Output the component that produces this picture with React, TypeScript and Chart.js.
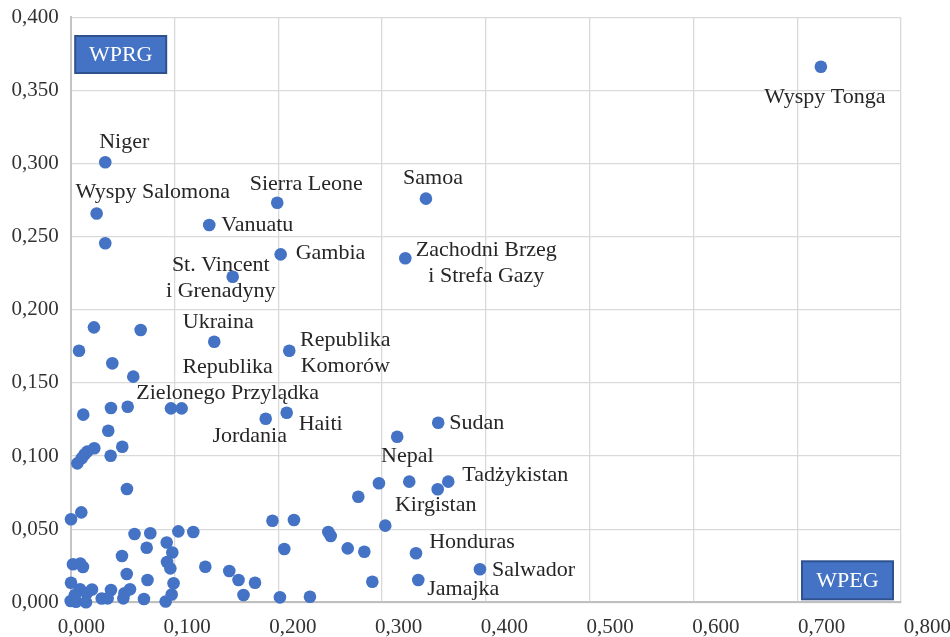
import React, { useEffect, useRef } from "react";
import { Chart, registerables } from "chart.js";

Chart.register(...registerables);

// x = WPEG share, y = WPRG share
const xValues = [
  0.7228, 0.0333, 0.025, 0.0333, 0.199, 0.3423, 0.1335, 0.2023, 0.3224, 0.1561,
  0.0224, 0.008, 0.0674, 0.1383, 0.2106, 0.0401, 0.0603, 0.0121, 0.0388, 0.0549,
  0.0966, 0.1069, 0.1879, 0.2081, 0.0362, 0.0497, 0.0227, 0.016, 0.0133, 0.0106,
  0.0064, 0.0385, 0.0542, 0.0102, 0.0003, 0.0615, 0.0767, 0.1037, 0.1181, 0.0925,
  0.0732, 0.0979, 0.0494, 0.2058, 0.1944, 0.2151, 0.0022, 0.0092, 0.0118, 0.0928,
  0.096, 0.1297, 0.1528, 0.054, 0.1617, 0.1776, 0.0003, 0.074, 0.0991, 0.009,
  0.0205, 0.0388, 0.0571, 0.0518, 0.0041, 0.0154, 0.0, 0.0051, 0.0147, 0.0299,
  0.0356, 0.0507, 0.0706, 0.0915, 0.0973, 0.1665, 0.2016, 0.2305, 0.3541, 0.3146,
  0.3262, 0.297, 0.3638, 0.3536, 0.2771, 0.3031, 0.2482, 0.2505, 0.2669, 0.2829,
  0.3327, 0.3943, 0.2906, 0.3349,
];
const yValues = [
  0.3662, 0.3009, 0.2658, 0.2455, 0.2732, 0.276, 0.258, 0.2379, 0.2352, 0.2226,
  0.188, 0.172, 0.1862, 0.1782, 0.172, 0.1634, 0.1543, 0.1283, 0.1329, 0.1337,
  0.1326, 0.1326, 0.1255, 0.1296, 0.1173, 0.1064, 0.1053, 0.103, 0.1011, 0.0985,
  0.095, 0.1002, 0.0775, 0.0615, 0.0568, 0.0467, 0.0472, 0.0485, 0.0481, 0.0409,
  0.0373, 0.0341, 0.0317, 0.0364, 0.0558, 0.0563, 0.026, 0.0265, 0.0241, 0.0276,
  0.0232, 0.0243, 0.0214, 0.0194, 0.0152, 0.0134, 0.0134, 0.0152, 0.013, 0.0089,
  0.0088, 0.0084, 0.0089, 0.0062, 0.005, 0.0062, 0.0009, 0.0004, 0.0, 0.0026,
  0.0027, 0.0027, 0.0023, 0.0005, 0.0053, 0.005, 0.0034, 0.0038, 0.1228, 0.1132,
  0.0825, 0.0814, 0.0825, 0.0773, 0.0722, 0.0524, 0.0481, 0.0453, 0.0369, 0.0346,
  0.0335, 0.0226, 0.0141, 0.0152,
];
const pointNames = [
  "Wyspy Tonga", "Niger", "Wyspy Salomona", "", "Sierra Leone", "Samoa", "Vanuatu", "Gambia",
  "Zachodni Brzeg\ni Strefa Gazy", "St. Vincent\ni Grenadyny",
  "", "", "", "Ukraina", "Republika\nKomorów", "", "", "", "", "",
  "", "Republika\nZielonego Przylądka", "Jordania", "Haiti", "", "", "", "", "", "",
  "", "", "", "", "", "", "", "", "", "",
  "", "", "", "", "", "", "", "", "", "",
  "", "", "", "", "", "", "", "", "", "",
  "", "", "", "", "", "", "", "", "", "",
  "", "", "", "", "", "", "", "", "Sudan", "",
  "Nepal", "", "Tadżykistan", "Kirgistan", "", "", "", "", "", "",
  "Honduras", "Salwador", "", "Jamajka",
];
const xTickValues = [0, 0.1, 0.2, 0.3, 0.4, 0.5, 0.6, 0.7, 0.8];
const quadrantTags = ["WPRG", "WPEG"];

// label offsets (pixels) from their point
const labelPlacement: Record<string, { dx: number; dy: number; align: CanvasTextAlign }> = {
  "Wyspy Tonga": { dx: 4, dy: 30, align: "center" },
  Niger: { dx: 19, dy: -20, align: "center" },
  "Wyspy Salomona": { dx: 56, dy: -21, align: "center" },
  "Sierra Leone": { dx: 29, dy: -19, align: "center" },
  Samoa: { dx: 7, dy: -20, align: "center" },
  Vanuatu: { dx: 12, dy: 0, align: "left" },
  Gambia: { dx: 15, dy: -1, align: "left" },
  "Zachodni Brzeg\ni Strefa Gazy": { dx: 81, dy: -8, align: "center" },
  "St. Vincent\ni Grenadyny": { dx: -12, dy: -12, align: "center" },
  Ukraina: { dx: 4, dy: -19, align: "center" },
  "Republika\nKomorów": { dx: 56, dy: -11, align: "center" },
  "Republika\nZielonego Przylądka": { dx: 46, dy: -41, align: "center" },
  Jordania: { dx: -16, dy: 17, align: "center" },
  Haiti: { dx: 12, dy: 11, align: "left" },
  Sudan: { dx: 11, dy: 1, align: "left" },
  Nepal: { dx: -2, dy: -25, align: "center" },
  "Tadżykistan": { dx: 14, dy: -6, align: "left" },
  Kirgistan: { dx: -2, dy: 16, align: "center" },
  Honduras: { dx: 56, dy: -11, align: "center" },
  Salwador: { dx: 12, dy: 1, align: "left" },
  Jamajka: { dx: 45, dy: 9, align: "center" },
};

const FONT = '"Liberation Serif", "Times New Roman", Times, serif';
const fmt = (v: number) => v.toFixed(3).replace(".", ",");

export default function App() {
  const ref = useRef<HTMLCanvasElement>(null);

  useEffect(() => {
    const canvas = ref.current;
    if (!canvas) return;

    const labelPlugin = {
      id: "pointLabels",
      afterDatasetsDraw(chart: any) {
        const ctx = chart.ctx as CanvasRenderingContext2D;
        const meta = chart.getDatasetMeta(0);
        ctx.save();
        ctx.font = `22px ${FONT}`;
        ctx.fillStyle = "#262626";
        ctx.textBaseline = "middle";
        pointNames.forEach((name, i) => {
          if (!name) return;
          const p = labelPlacement[name];
          const el = meta.data[i];
          if (!p || !el) return;
          ctx.textAlign = p.align;
          name.split("\n").forEach((line, k) => {
            ctx.fillText(line, el.x + p.dx, el.y + p.dy + k * 26);
          });
        });
        ctx.restore();
      },
    };

    const tagPlugin = {
      id: "quadrantTags",
      afterDraw(chart: any) {
        const ctx = chart.ctx as CanvasRenderingContext2D;
        const a = chart.chartArea;
        const boxes = [
          { text: quadrantTags[0], x: a.left + 4.5, y: a.top + 18.7, w: 91, h: 37 },
          { text: quadrantTags[1], x: a.right - 99, y: a.bottom - 41, w: 91, h: 38 },
        ];
        ctx.save();
        boxes.forEach((b) => {
          ctx.fillStyle = "#4472C4";
          ctx.fillRect(b.x, b.y, b.w, b.h);
          ctx.strokeStyle = "#2F528F";
          ctx.lineWidth = 2;
          ctx.strokeRect(b.x, b.y, b.w, b.h);
          ctx.fillStyle = "#ffffff";
          ctx.font = `22px ${FONT}`;
          ctx.textAlign = "center";
          ctx.textBaseline = "middle";
          ctx.fillText(b.text, b.x + b.w / 2, b.y + b.h / 2 + 1);
        });
        ctx.restore();
      },
    };

    const chart = new Chart(canvas, {
      type: "scatter",
      data: {
        datasets: [
          {
            data: xValues.map((x, i) => ({ x, y: yValues[i] })),
            backgroundColor: "#4472C4",
            borderColor: "#4472C4",
            pointRadius: 6.3,
            pointBorderWidth: 0,
            clip: false as any,
          },
        ],
      },
      options: {
        responsive: false,
        animation: false,
        layout: { padding: { top: 17.3, right: 49, left: 0, bottom: 0 } },
        plugins: { legend: { display: false }, tooltip: { enabled: false } },
        scales: {
          x: {
            type: "linear",
            position: "bottom",
            min: 0,
            max: 0.8,
            weight: 0,
            ticks: { display: false, stepSize: 0.1 },
            grid: { color: "#d9d9d9", lineWidth: 1.3, drawTicks: false },
            border: { color: "#bfbfbf", width: 2 },
            afterFit: (s: any) => {
              s.height = 0;
              s.paddingLeft = 0;
              s.paddingRight = 0;
            },
          },
          x2: {
            type: "linear",
            position: "bottom",
            min: -0.0101,
            max: 0.775,
            weight: 1,
            grid: { display: false, drawTicks: false },
            border: { display: false },
            afterBuildTicks: (s: any) => {
              s.ticks = xTickValues.map((v) => ({ value: v }));
            },
            ticks: {
              autoSkip: false,
              maxRotation: 0,
              minRotation: 0,
              padding: 13,
              color: "#333333",
              font: { family: FONT, size: 21 },
              callback: (v: any) => fmt(Number(v)),
            },
            afterFit: (s: any) => {
              s.height = 34.7;
              s.paddingLeft = 0;
              s.paddingRight = 0;
            },
          },
          y: {
            type: "linear",
            min: 0,
            max: 0.4,
            ticks: {
              stepSize: 0.05,
              padding: 12,
              color: "#333333",
              font: { family: FONT, size: 21 },
              callback: (v: any) => fmt(Number(v)),
            },
            grid: { color: "#d9d9d9", lineWidth: 1.3, drawTicks: false },
            border: { color: "#c4c4c4", width: 2 },
            afterFit: (s: any) => {
              s.width = 70.7;
              s.paddingTop = 0;
              s.paddingBottom = 0;
            },
          },
        },
      } as any,
      plugins: [labelPlugin, tagPlugin],
    });

    return () => chart.destroy();
  }, []);

  return (
    <div style={{ position: "absolute", left: 0, top: 0, width: 950, height: 637, background: "#ffffff" }}>
      <canvas ref={ref} width={950} height={637} style={{ width: 950, height: 637, display: "block" }} />
    </div>
  );
}
